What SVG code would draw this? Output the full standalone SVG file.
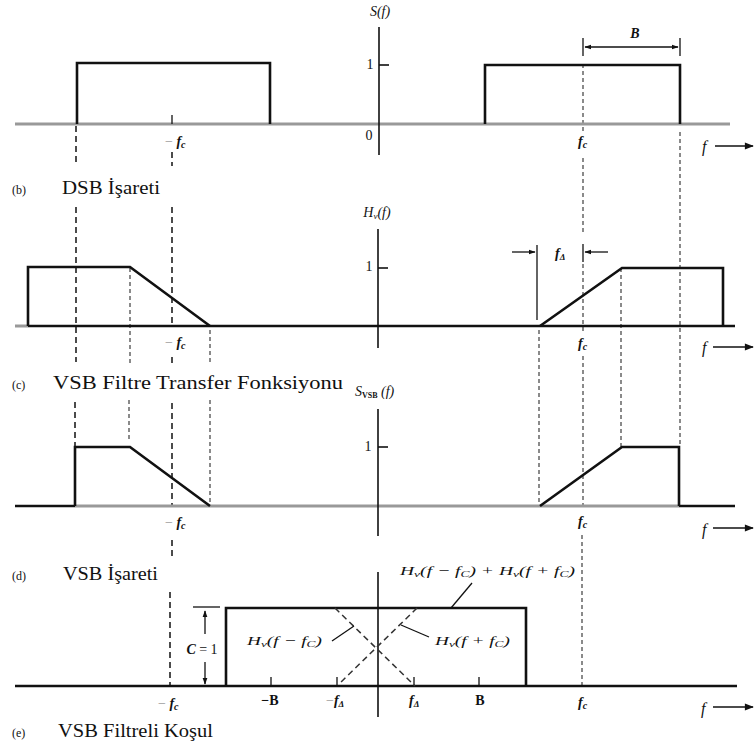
<svg xmlns="http://www.w3.org/2000/svg" width="756" height="747" viewBox="0 0 756 747">
<style>
text{font-family:"Liberation Serif","Times New Roman",serif;fill:#111}
.it{font-style:italic}
.lab{font-size:19px}
.sm{font-size:12px}
.ax{font-size:14px}
.fl{font-size:16px;font-style:italic}
.sig{fill:none;stroke:#111;stroke-width:2.6;stroke-linejoin:miter}
.axis{stroke:#111;stroke-width:1.6}
.base{stroke:#999;stroke-width:3}
.baseb{stroke:#111;stroke-width:2.6}
.dash{stroke:#111;stroke-width:1.5;stroke-dasharray:6,4}
.dot{stroke:#8a8a8a;stroke-width:2;stroke-dasharray:4,3}
.thin{stroke:#111;stroke-width:1.3;fill:none}
.gdash{stroke:#333;stroke-width:1.5;stroke-dasharray:6,4;fill:none}
</style>
<defs>
<marker id="ah" viewBox="0 0 10 10" refX="9" refY="5" markerWidth="7" markerHeight="7" orient="auto-start-reverse" markerUnits="userSpaceOnUse">
<path d="M0,1.5 L10,5 L0,8.5 Z" fill="#111"/>
</marker>
<marker id="ahb" viewBox="0 0 10 10" refX="9" refY="5" markerWidth="10" markerHeight="9" orient="auto" markerUnits="userSpaceOnUse">
<path d="M0,1 L10,5 L0,9 Z" fill="#111"/>
</marker>
</defs>

<g id="connectors">
<line class="dash" x1="76" y1="126" x2="76" y2="165"/>
<line class="dash" x1="76" y1="207" x2="76" y2="362"/>
<line class="dash" x1="75" y1="402" x2="75" y2="447"/>
<line class="dash" x1="172" y1="152" x2="172" y2="166"/>
<line class="dash" x1="172" y1="207" x2="172" y2="327"/>
<line class="dash" x1="172" y1="357" x2="172" y2="366"/>
<line class="dash" x1="172" y1="403" x2="172" y2="506"/>
<line class="dash" x1="172" y1="540" x2="172" y2="556"/>
<line class="dash" x1="170" y1="592" x2="170" y2="686"/>
<line class="dot" x1="130" y1="268" x2="130" y2="365"/>
<line class="dot" x1="129" y1="400" x2="129" y2="440"/>
<line class="dot" x1="210" y1="330" x2="210" y2="364"/>
<line class="dot" x1="210" y1="400" x2="210" y2="505"/>
<line class="dot" x1="583" y1="64" x2="583" y2="132"/>
<line class="dot" x1="583" y1="158" x2="583" y2="232"/>
<line class="dot" x1="583" y1="264" x2="583" y2="332"/>
<line class="dot" x1="583" y1="356" x2="583" y2="510"/>
<line class="dot" x1="582" y1="535" x2="582" y2="686"/>
<line class="dot" x1="680" y1="132" x2="680" y2="447"/>
<line class="dot" x1="539" y1="330" x2="539" y2="506"/>
<line class="dot" x1="621" y1="268" x2="621" y2="447"/>
</g>

<g id="panel-b">
<line class="base" x1="15" y1="124" x2="730" y2="124"/>
<line class="axis" x1="379" y1="27" x2="379" y2="155"/>
<line class="axis" x1="379" y1="65" x2="389" y2="65"/>
<polyline class="sig" points="77,124 77,63 270,63 270,124"/>
<polyline class="sig" points="485,124 485,65 680,65 680,124"/>
<line class="thin" x1="172" y1="115" x2="172" y2="124"/>
<text class="ax it" x="380" y="16" text-anchor="middle">S(f)</text>
<text class="ax" x="370" y="69" text-anchor="middle">1</text>
<text class="ax" x="369" y="140" text-anchor="middle">0</text>
<text class="ax it" x="165" y="146"><tspan fill="#999" font-style="normal">−</tspan><tspan font-weight="bold"> f</tspan><tspan font-size="10" dy="2" font-weight="bold">c</tspan></text>
<text class="ax it" x="578" y="146"><tspan font-weight="bold">f</tspan><tspan font-size="10" dy="2" font-weight="bold">c</tspan></text>
<line class="thin" x1="583" y1="38" x2="583" y2="56"/>
<line class="thin" x1="680" y1="38" x2="680" y2="56"/>
<line class="thin" x1="585" y1="47" x2="678" y2="47" marker-start="url(#ah)" marker-end="url(#ah)"/>
<text class="ax it" x="635" y="38" text-anchor="middle" font-weight="bold" font-size="12">B</text>
<text class="fl" x="702" y="152">f</text>
<line class="thin" x1="715" y1="146" x2="753" y2="146" marker-end="url(#ahb)"/>
<text class="sm" x="12" y="194">(b)</text>
<text class="lab" x="62" y="194" textLength="98" lengthAdjust="spacingAndGlyphs">DSB İşareti</text>
</g>

<g id="panel-c">
<line class="base" x1="15" y1="326" x2="28" y2="326"/>
<line class="baseb" x1="28" y1="326" x2="735" y2="326"/>
<line class="axis" x1="378" y1="229" x2="378" y2="348"/>
<line class="axis" x1="378" y1="268" x2="388" y2="268"/>
<polyline class="sig" points="28,326 28,267 130,267 210,326"/>
<polyline class="sig" points="540,326 622,268 723,268 723,326"/>
<text class="ax it" x="377" y="217" text-anchor="middle">H<tspan font-size="9" dy="2">v</tspan><tspan dy="-2">(f)</tspan></text>
<text class="ax" x="369" y="271" text-anchor="middle">1</text>
<text class="ax it" x="165" y="347"><tspan fill="#999" font-style="normal">−</tspan><tspan font-weight="bold"> f</tspan><tspan font-size="10" dy="2" font-weight="bold">c</tspan></text>
<text class="ax it" x="578" y="348"><tspan font-weight="bold">f</tspan><tspan font-size="10" dy="2" font-weight="bold">c</tspan></text>
<line class="thin" x1="537" y1="245" x2="537" y2="320"/>
<line class="thin" x1="583" y1="244" x2="583" y2="262"/>
<line class="thin" x1="512" y1="252" x2="535" y2="252" marker-end="url(#ah)"/>
<line class="thin" x1="608" y1="252" x2="585" y2="252" marker-end="url(#ah)"/>
<text class="ax it" x="555" y="258" font-weight="bold">f<tspan font-size="9" dy="2">Δ</tspan></text>
<text class="fl" x="702" y="353">f</text>
<line class="thin" x1="713" y1="347" x2="753" y2="347" marker-end="url(#ahb)"/>
<text class="sm" x="12" y="389">(c)</text>
<text class="lab" x="53" y="389" textLength="290" lengthAdjust="spacingAndGlyphs">VSB Filtre Transfer Fonksiyonu</text>
</g>

<g id="panel-d">
<line class="baseb" x1="15" y1="506" x2="75" y2="506"/>
<line class="base" x1="75" y1="506" x2="679" y2="506"/>
<line class="baseb" x1="679" y1="506" x2="735" y2="506"/>
<line class="axis" x1="378" y1="409" x2="378" y2="536"/>
<line class="axis" x1="378" y1="447" x2="388" y2="447"/>
<polyline class="sig" points="75,506 75,447 130,447 210,506"/>
<polyline class="sig" points="540,506 622,447 679,447 679,506"/>
<text class="ax it" x="355" y="396">S<tspan font-size="8" dy="2" font-style="normal" font-weight="bold">VSB</tspan><tspan dy="-2"> (f)</tspan></text>
<text class="ax" x="368" y="451" text-anchor="middle">1</text>
<text class="ax it" x="165" y="527"><tspan fill="#999" font-style="normal">−</tspan><tspan font-weight="bold"> f</tspan><tspan font-size="10" dy="2" font-weight="bold">c</tspan></text>
<text class="ax it" x="578" y="526"><tspan font-weight="bold">f</tspan><tspan font-size="10" dy="2" font-weight="bold">c</tspan></text>
<text class="fl" x="702" y="535">f</text>
<line class="thin" x1="713" y1="528" x2="753" y2="528" marker-end="url(#ahb)"/>
<text class="sm" x="12" y="580">(d)</text>
<text class="lab" x="63" y="580" textLength="95" lengthAdjust="spacingAndGlyphs">VSB İşareti</text>
</g>

<g id="panel-e">
<line class="baseb" x1="15" y1="686" x2="737" y2="686"/>
<line class="axis" x1="378" y1="572" x2="378" y2="717"/>
<polyline class="sig" points="226,686 226,608 526,608 526,686"/>
<line class="thin" x1="193" y1="607" x2="220" y2="607" stroke-width="2"/>
<line class="thin" x1="205" y1="634" x2="205" y2="611" marker-end="url(#ah)"/>
<line class="thin" x1="205" y1="662" x2="205" y2="684" marker-end="url(#ah)"/>
<text class="ax it" x="202" y="654" text-anchor="middle" font-weight="bold" font-size="13">C<tspan font-style="normal" font-weight="normal"> = 1</tspan></text>
<line class="thin" x1="271" y1="677" x2="271" y2="686"/>
<line class="thin" x1="337" y1="677" x2="337" y2="686"/>
<line class="thin" x1="414" y1="677" x2="414" y2="686"/>
<line class="thin" x1="479" y1="677" x2="479" y2="686"/>
<line class="gdash" x1="335" y1="608" x2="415" y2="686"/>
<line class="gdash" x1="417" y1="608" x2="339" y2="684"/>
<line class="thin" x1="332" y1="641" x2="354" y2="626"/>
<line class="thin" x1="429" y1="637" x2="401" y2="625"/>
<line class="thin" x1="472" y1="583" x2="451" y2="608"/>
<text class="it" font-size="13" x="247" y="645" textLength="75" lengthAdjust="spacingAndGlyphs">H<tspan font-size="9" dy="2">v</tspan><tspan dy="-2">(f − f</tspan><tspan font-size="9" dy="2">C</tspan><tspan dy="-2">)</tspan></text>
<text class="it" font-size="13" x="435" y="645" textLength="75" lengthAdjust="spacingAndGlyphs">H<tspan font-size="9" dy="2">v</tspan><tspan dy="-2">(f + f</tspan><tspan font-size="9" dy="2">C</tspan><tspan dy="-2">)</tspan></text>
<text class="it" font-size="13" x="400" y="575" textLength="175" lengthAdjust="spacingAndGlyphs">H<tspan font-size="9" dy="2">v</tspan><tspan dy="-2">(f − f</tspan><tspan font-size="9" dy="2">C</tspan><tspan dy="-2">) + H</tspan><tspan font-size="9" dy="2">v</tspan><tspan dy="-2">(f + f</tspan><tspan font-size="9" dy="2">C</tspan><tspan dy="-2">)</tspan></text>
<text class="ax" x="270" y="705" text-anchor="middle" font-weight="bold" font-size="13">−B</text>
<text class="ax it" x="326" y="705"><tspan fill="#999" font-style="normal">−</tspan><tspan font-weight="bold">f</tspan><tspan font-size="9" dy="2" font-weight="bold">Δ</tspan></text>
<text class="ax it" x="409" y="705" font-weight="bold">f<tspan font-size="9" dy="2">Δ</tspan></text>
<text class="ax" x="480" y="705" text-anchor="middle" font-weight="bold" font-size="13">B</text>
<text class="ax it" x="158" y="708"><tspan fill="#999" font-style="normal">−</tspan><tspan font-weight="bold"> f</tspan><tspan font-size="10" dy="2" font-weight="bold">c</tspan></text>
<text class="ax it" x="578" y="707"><tspan font-weight="bold">f</tspan><tspan font-size="10" dy="2" font-weight="bold">c</tspan></text>
<text class="fl" x="701" y="714">f</text>
<line class="thin" x1="713" y1="707" x2="753" y2="707" marker-end="url(#ahb)"/>
<text class="sm" x="12" y="737">(e)</text>
<text class="lab" x="58" y="737" textLength="155" lengthAdjust="spacingAndGlyphs">VSB Filtreli Koşul</text>
</g>
</svg>
